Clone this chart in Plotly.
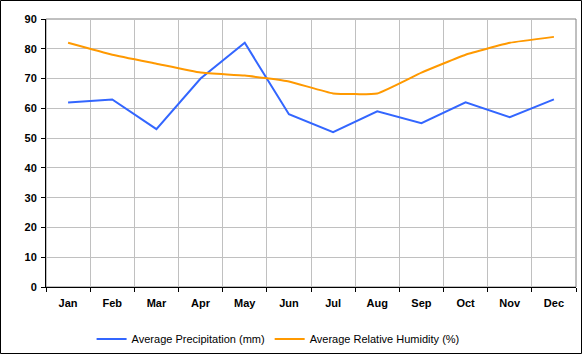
import plotly.graph_objects as go

months = ["Jan", "Feb", "Mar", "Apr", "May", "Jun", "Jul", "Aug", "Sep", "Oct", "Nov", "Dec"]
precip = [62, 63, 53, 70, 82, 58, 52, 59, 55, 62, 57, 63]
humidity = [82, 78, 75, 72, 71, 69, 65, 65, 72, 78, 82, 84]
y_ticks = [0, 10, 20, 30, 40, 50, 60, 70, 80, 90]

W, H = 583, 355
L, R, T, B = 46, 7, 19, 68
pw, ph = W - L - R, H - T - B

fig = go.Figure()
fig.add_trace(go.Scatter(x=months, y=precip, mode="lines", name="Average Precipitation (mm)",
                         line=dict(color="#3366FF", width=2)))
fig.add_trace(go.Scatter(x=months, y=humidity, mode="lines", name="Average Relative Humidity (%)",
                         line=dict(color="#FF9900", width=2, shape="spline", smoothing=0.35)))

fig.update_layout(
    width=W, height=H,
    margin=dict(l=L, r=R, t=T, b=B, autoexpand=False),
    paper_bgcolor="white", plot_bgcolor="white",
    font=dict(family="Liberation Sans, Arial, sans-serif", size=11, color="black"),
    showlegend=True,
    legend=dict(orientation="h", xref="container", yref="container",
                x=0.477, xanchor="center", y=(H - 339) / H, yanchor="middle",
                font=dict(size=11, color="black"), tracegroupgap=0,
                bgcolor="rgba(0,0,0,0)"),
    xaxis=dict(type="category", tickson="boundaries", range=[-0.5, 11.5],
               showgrid=True, gridcolor="#C0C0C0", gridwidth=1,
               showline=True, linecolor="black", linewidth=1,
               ticks="outside", ticklen=4, tickcolor="black", ticklabelstandoff=6,
               tickfont=dict(size=11, family="Liberation Sans, Arial, sans-serif", weight="bold"),
               zeroline=False, fixedrange=True, automargin=False),
    yaxis=dict(range=[0, 90], tickvals=y_ticks,
               showgrid=True, gridcolor="#C0C0C0", gridwidth=1,
               showline=True, linecolor="black", linewidth=1,
               ticks="outside", ticklen=4, tickcolor="black", ticklabelstandoff=2,
               tickfont=dict(size=11, family="Liberation Sans, Arial, sans-serif", weight="bold"),
               zeroline=False, fixedrange=True, automargin=False),
    shapes=[
        dict(type="rect", xref="paper", yref="paper", x0=0, x1=1, y0=0, y1=1,
             line=dict(color="#808080", width=1), layer="below"),
        dict(type="rect", xref="paper", yref="paper",
             x0=-(L - 0.5) / pw, x1=(581.5 - L) / pw,
             y0=(T + ph - 353.5) / ph, y1=(T + ph - 0.5) / ph,
             line=dict(color="black", width=1), layer="above"),
    ],
)

fig.write_html("out.html", config={"displayModeBar": False},
               post_script="document.body.style.margin='0px';document.body.style.overflow='hidden';")
